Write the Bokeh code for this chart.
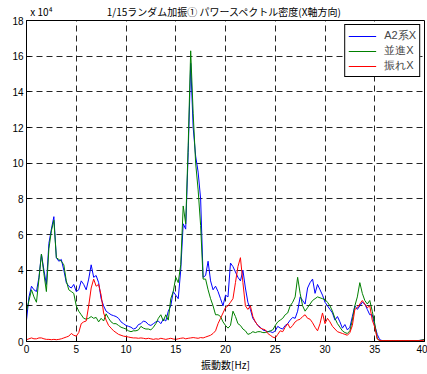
from bokeh.plotting import figure
from bokeh.models import Range1d, FixedTicker, Legend, LegendItem, LinearAxis
from bokeh.embed import file_html
from bokeh.resources import INLINE

# frequency axis (Hz), 0.25 Hz step
freq = [i * 0.25 for i in range(161)]

# A2系X (x 10^4)
a2 = [
    1.2, 2.5, 3.1, 2.9,
    2.8, 3.6, 4.9, 4.0,
    3.2, 5.5, 6.3, 7.0,
    4.7, 4.5, 4.6, 4.0,
    3.3, 3.1, 3.0, 3.2,
    2.8, 2.9, 3.4, 3.2,
    2.9, 3.5, 4.3, 3.6,
    3.7, 3.3, 2.4, 2.0,
    1.7, 1.6, 1.5, 1.45,
    1.4, 1.3, 1.1, 1.0,
    0.9, 0.85, 0.8, 0.7,
    0.75, 0.95, 1.0, 1.15,
    1.1, 0.95, 0.9, 1.0,
    1.1, 1.15, 1.0, 1.25,
    1.15, 1.7, 2.0, 2.8,
    2.6, 2.4, 4.0, 6.6,
    6.3, 10.6, 15.6, 12.0,
    10.4, 9.5, 8.0, 3.6,
    3.7, 4.5, 3.4, 2.9,
    3.1, 2.8, 2.4, 2.0,
    2.6, 2.5, 4.4, 4.2,
    3.9, 3.6, 3.4, 4.0,
    3.0, 2.2, 1.8, 1.3,
    1.1, 0.9, 0.8, 0.65,
    0.6, 0.55, 0.55, 0.5,
    0.6, 0.85, 0.75, 0.7,
    0.9, 1.0, 1.2, 1.35,
    1.3, 1.7, 2.5, 2.3,
    2.1, 3.0, 3.3, 3.5,
    2.7, 3.2, 2.9, 2.6,
    2.2, 2.0, 1.8, 1.6,
    1.2, 1.4, 1.1, 0.75,
    0.95, 0.65, 0.8, 1.4,
    2.0, 1.8, 2.0, 2.2,
    2.1, 1.8, 1.5, 1.5,
    0.9, 0.4, 0.1, 0.05,
    0.05, 0.05, 0.05, 0.05,
    0.05, 0.05, 0.05, 0.05,
    0.05, 0.05, 0.05, 0.05,
    0.05, 0.05, 0.06, 0.08,
    0.12,
]

# 並進X (x 10^4)
heishin = [
    1.7, 2.3, 2.9, 2.5,
    2.2, 3.5, 4.9, 3.8,
    2.8, 5.2, 6.2, 6.8,
    4.7, 4.6, 4.5, 4.3,
    3.4, 2.9, 2.8, 2.7,
    2.0, 1.7, 1.5, 1.3,
    1.25, 1.3, 1.4, 1.3,
    1.35, 1.1, 1.3, 1.15,
    1.55, 1.3, 1.1, 1.0,
    1.0, 0.9, 0.8, 0.75,
    0.7, 0.6, 0.55, 0.6,
    0.6, 0.65, 0.85, 0.75,
    0.7, 0.7, 0.65, 0.8,
    1.0, 1.3, 1.5, 1.15,
    1.5, 1.2, 2.4, 2.8,
    3.6, 3.3, 4.3, 7.6,
    6.6, 11.0, 16.3, 12.8,
    10.0, 8.5, 6.5, 3.5,
    3.5, 2.9, 2.4, 2.0,
    1.5, 1.5, 1.4, 1.1,
    0.9, 0.75, 0.9, 1.7,
    1.4, 1.0, 0.9, 0.7,
    0.6, 0.4, 0.45, 0.55,
    0.5, 0.55, 0.55, 0.5,
    0.5, 0.55, 0.6, 0.65,
    0.9, 1.1, 1.2, 1.3,
    1.5, 1.6, 2.0, 2.2,
    2.5, 3.6, 2.7, 2.0,
    1.7, 1.9, 2.1, 2.3,
    2.4, 2.5, 2.45, 2.4,
    2.35, 2.2, 2.0, 1.7,
    1.3, 1.0, 0.8, 0.6,
    0.5, 0.45, 0.6, 1.2,
    2.0, 2.5, 3.3, 2.7,
    2.3, 2.1, 2.3, 1.7,
    1.0, 0.15, 0.05, 0.05,
    0.05, 0.05, 0.05, 0.05,
    0.05, 0.05, 0.05, 0.05,
    0.05, 0.05, 0.05, 0.05,
    0.05, 0.05, 0.06, 0.08,
    0.12,
]

# 振れX (x 10^4)
fure = [
    0.1, 0.15, 0.2, 0.15,
    0.15, 0.2, 0.2, 0.15,
    0.12, 0.12, 0.1, 0.12,
    0.1, 0.12, 0.15, 0.2,
    0.25, 0.3, 0.45, 0.35,
    0.3, 0.5, 1.0, 1.1,
    1.15, 2.0, 3.0, 3.5,
    3.1, 3.2, 2.6, 1.6,
    1.2, 0.9, 0.75, 0.6,
    0.5, 0.4, 0.35, 0.3,
    0.28, 0.25, 0.22, 0.2,
    0.2, 0.18, 0.2, 0.18,
    0.15, 0.18, 0.15, 0.12,
    0.15, 0.13, 0.18, 0.15,
    0.12, 0.15, 0.18, 0.14,
    0.12, 0.15, 0.18, 0.2,
    0.15, 0.18, 0.2, 0.22,
    0.2, 0.18, 0.22, 0.2,
    0.25, 0.3, 0.35, 0.45,
    0.6, 1.0, 1.3, 1.6,
    1.9, 2.0, 2.2, 2.4,
    3.3, 4.2, 4.7, 3.3,
    2.0, 1.8, 2.0, 1.4,
    1.1, 0.9, 0.75, 0.7,
    0.65, 0.45, 0.35, 0.25,
    0.2, 0.4, 0.6, 0.55,
    0.8, 1.0, 0.75, 0.9,
    1.1, 1.2, 1.25, 1.4,
    1.5, 1.3, 1.25, 1.05,
    0.8, 0.6, 1.0, 1.6,
    1.0, 1.3, 1.1, 0.85,
    0.7, 0.55, 0.5, 0.45,
    0.4, 0.35, 0.5, 0.9,
    1.8, 1.9, 2.1, 2.3,
    2.1, 1.9, 2.0, 1.2,
    0.8, 0.15, 0.05, 0.05,
    0.05, 0.05, 0.05, 0.05,
    0.05, 0.05, 0.05, 0.05,
    0.05, 0.05, 0.05, 0.05,
    0.05, 0.05, 0.05, 0.06,
    0.08,
]

x_ticks = [0, 5, 10, 15, 20, 25, 30, 35, 40]
y_ticks = [0, 2, 4, 6, 8, 10, 12, 14, 16, 18]
series_names = ["A2系X", "並進X", "振れX"]
series_colors = ["#0000ff", "#008000", "#ff0000"]
title_text = "1/15ランダム加振①  パワースペクトル密度(X軸方向)"
scale_text = "x 10⁴"

JP = "Noto Sans CJK JP"
NUM = "Liberation Sans"

p = figure(width=427, height=374, output_backend="svg", toolbar_location=None,
           x_range=Range1d(0, 40), y_range=Range1d(0, 18),
           min_border_left=26, min_border_right=3, min_border_top=16,
           min_border_bottom=0)

p.background_fill_color = "white"
p.border_fill_color = "white"
p.outline_line_color = "black"
p.outline_line_alpha = 1
p.outline_line_width = 1

for ax in (p.xaxis[0], p.yaxis[0]):
    ax.axis_line_color = "black"
    ax.major_tick_in = 4
    ax.major_tick_out = 0
    ax.minor_tick_in = 0
    ax.minor_tick_out = 0
    ax.major_tick_line_color = "black"
    ax.major_label_text_font = NUM
    ax.major_label_text_font_size = "10px"
    ax.major_label_text_color = "black"
    ax.major_label_standoff = 3

p.xaxis.ticker = FixedTicker(ticks=x_ticks)
p.yaxis.ticker = FixedTicker(ticks=y_ticks)
p.xaxis.axis_label = "振動数[Hz]"
p.xaxis.axis_label_text_font = JP
p.xaxis.axis_label_text_font_size = "10px"
p.xaxis.axis_label_text_font_style = "normal"
p.xaxis.axis_label_text_color = "black"
p.xaxis.axis_label_standoff = 1

# header row above the frame: scale factor (left) and chart title (centre)
head = LinearAxis(ticker=FixedTicker(ticks=[1.5, 20]),
                  major_label_overrides={1.5: scale_text, 20: title_text})
head.axis_line_color = None
head.major_tick_line_color = None
head.minor_tick_line_color = None
head.major_label_text_font = JP
head.major_label_text_font_size = "10px"
head.major_label_text_color = "black"
head.major_label_standoff = -4
p.add_layout(head, "above")

p.grid.grid_line_color = "black"
p.grid.grid_line_alpha = 0.85
p.grid.grid_line_dash = "6 4"
p.grid.grid_line_width = 1
p.xgrid.ticker = FixedTicker(ticks=[5, 10, 15, 20, 25, 30, 35])
p.ygrid.ticker = FixedTicker(ticks=[2, 4, 6, 8, 10, 12, 14, 16])

r_a2 = p.line(freq, a2, line_color=series_colors[0], line_width=1)
r_hs = p.line(freq, heishin, line_color=series_colors[1], line_width=1)
r_fu = p.line(freq, fure, line_color=series_colors[2], line_width=1)

legend = Legend(items=[
    LegendItem(label=series_names[0], renderers=[r_a2]),
    LegendItem(label=series_names[1], renderers=[r_hs]),
    LegendItem(label=series_names[2], renderers=[r_fu]),
], location="top_right")
legend.label_text_font = NUM
legend.label_text_font_size = "11px"
legend.label_height = 10
legend.glyph_height = 10
legend.glyph_width = 28
legend.spacing = 0
legend.padding = 3
legend.margin = 4
legend.border_line_color = "black"
legend.border_line_alpha = 1
legend.background_fill_color = "white"
legend.background_fill_alpha = 1
legend.label_standoff = 8
p.add_layout(legend)

open("out.html", "w").write(file_html(p, INLINE))
